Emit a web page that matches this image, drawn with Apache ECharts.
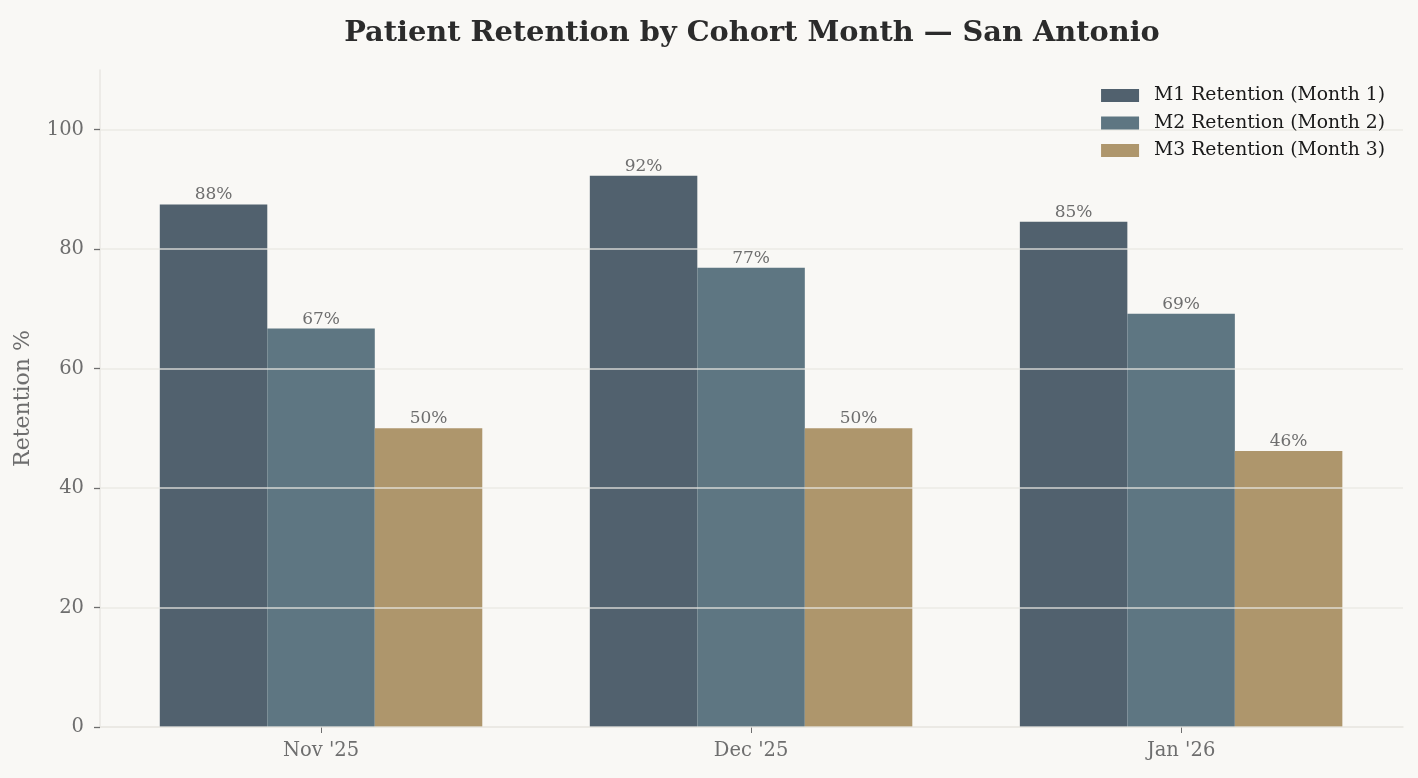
<!DOCTYPE html>
<html>

<head>
	<meta charset="UTF-8">
	<title>Patient Retention by Cohort Month</title>
	<style>
		html, body {
			margin: 0;
			padding: 0;
			background: #f9f8f5;
		}
		#chart {
			width: 1418px;
			height: 778px;
		}
	</style>
	<script src="https://cdn.jsdelivr.net/npm/echarts@6/dist/echarts.min.js"></script>
</head>

<body>
	<div id="chart"></div>
	<script>
		// cohort months (x positions 0, 1, 2)
		var cohorts = ["Nov '25", "Dec '25", "Jan '26"];
		var seriesNames = ['M1 Retention (Month 1)', 'M2 Retention (Month 2)', 'M3 Retention (Month 3)'];
		var m1 = [87.5, 92.3, 84.6];
		var m2 = [66.7, 76.9, 69.2];
		var m3 = [50.0, 50.0, 46.2];
		var yTicks = [0, 20, 40, 60, 80, 100];
		var colors = ['#51616e', '#5e7682', '#ae966c'];

		var font = 'DejaVu Serif';

		function toPoints(arr) {
			return arr.map(function (v, i) {
				return [i, v];
			});
		}

		function makeSeries(name, values, color) {
			return {
				type: 'bar',
				name: name,
				data: toPoints(values),
				barWidth: 107.5,
				barGap: '0%',
				itemStyle: {
					color: color
				},
				label: {
					show: true,
					position: 'top',
					distance: 1,
					fontFamily: font,
					fontSize: 17,
					color: '#6e6e6e',
					formatter: function (p) {
						return Math.round(p.value[1]) + '%';
					}
				}
			};
		}

		var mychart = echarts.init(document.getElementById('chart'));
		mychart.setOption({
			backgroundColor: '#f9f8f5',
			animation: false,
			title: {
				text: 'Patient Retention by Cohort Month — San Antonio',
				left: 747,
				textAlign: 'center',
				top: 14,
				textStyle: {
					fontFamily: font,
					fontSize: 28.8,
					fontWeight: 'bold',
					color: '#2b2b2b'
				}
			},
			legend: {
				orient: 'vertical',
				right: 28,
				top: 81,
				z: 10,
				itemWidth: 38,
				itemHeight: 13,
				itemGap: 8.5,
				icon: 'rect',
				textStyle: {
					fontFamily: font,
					fontSize: 18.8,
					color: '#1a1a1a',
					padding: [0, 0, 0, 10]
				}
			},
			grid: {
				left: 100,
				right: 15,
				top: 70,
				bottom: 51,
				containLabel: false
			},
			xAxis: {
				type: 'value',
				min: -0.514,
				max: 2.516,
				splitLine: { show: false },
				axisLine: {
					onZero: false,
					lineStyle: { color: '#e9e7e2', width: 1.5 }
				},
				axisTick: {
					customValues: [0, 1, 2],
					length: 6,
					lineStyle: { color: '#6e6e6e' }
				},
				axisLabel: {
					customValues: [0, 1, 2],
					margin: 14,
					fontFamily: font,
					fontSize: 19.5,
					color: '#6e6e6e',
					formatter: function (v) {
						return cohorts[Math.round(v)];
					}
				}
			},
			yAxis: {
				type: 'value',
				min: 0,
				max: 110,
				z: 5,
				name: 'Retention %',
				nameLocation: 'middle',
				nameGap: 66,
				nameTextStyle: {
					fontFamily: font,
					fontSize: 22,
					color: '#6e6e6e'
				},
				axisLine: {
					show: true,
					onZero: false,
					lineStyle: { color: '#e9e7e2', width: 1.5 }
				},
				axisTick: {
					show: true,
					customValues: yTicks,
					length: 6,
					lineStyle: { color: '#6e6e6e', width: 1.3 }
				},
				axisLabel: {
					customValues: yTicks,
					margin: 16,
					fontFamily: font,
					fontSize: 19.5,
					color: '#6e6e6e'
				},
				splitLine: {
					show: true,
					lineStyle: { color: '#e9e7e2', opacity: 0.85, width: 1.5 }
				}
			},
			series: [
				makeSeries(seriesNames[0], m1, colors[0]),
				makeSeries(seriesNames[1], m2, colors[1]),
				makeSeries(seriesNames[2], m3, colors[2])
			]
		});
	</script>
</body>

</html>
